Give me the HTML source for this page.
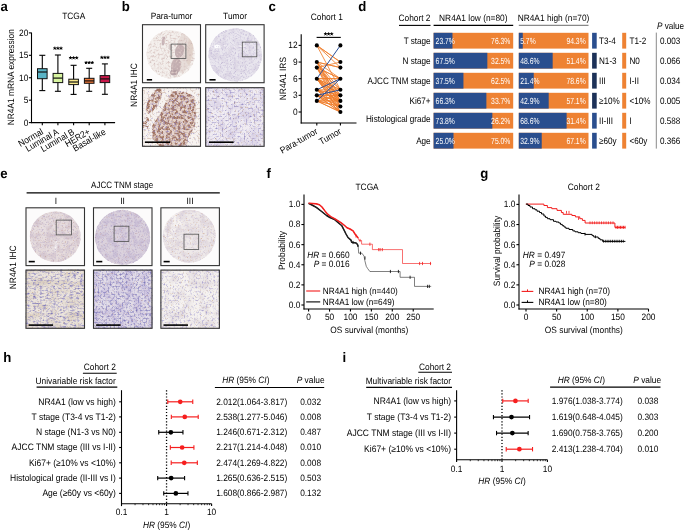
<!DOCTYPE html>
<html><head><meta charset="utf-8"><style>
html,body{margin:0;padding:0;background:#fff;}
svg{display:block;will-change:transform;}
text{font-family:"Liberation Sans",sans-serif;text-rendering:geometricPrecision;}
</style></head><body>
<svg width="685" height="531" viewBox="0 0 685 531">
<defs><filter id="soft" color-interpolation-filters="sRGB"><feGaussianBlur stdDeviation="1.0"/></filter><clipPath id="cp1"><circle cx="170.80" cy="54.20" r="24.20"/></clipPath><filter id="nf1" x="0" y="0" width="1" height="1" color-interpolation-filters="sRGB"><feTurbulence type="fractalNoise" baseFrequency="0.5" numOctaves="2" seed="1"/><feColorMatrix type="matrix" values="0 0 0 0 0.863 0 0 0 0 0.792 0 0 0 0 0.776 3.000 0 0 0 -1.361"/></filter><filter id="nf2" x="0" y="0" width="1" height="1" color-interpolation-filters="sRGB"><feTurbulence type="fractalNoise" baseFrequency="0.6" numOctaves="2" seed="2"/><feColorMatrix type="matrix" values="0 0 0 0 0.769 0 0 0 0 0.675 0 0 0 0 0.675 0 3.000 0 0 -1.856"/></filter><clipPath id="cp2"><circle cx="235.30" cy="55.00" r="26.80"/></clipPath><filter id="nf3" x="0" y="0" width="1" height="1" color-interpolation-filters="sRGB"><feTurbulence type="fractalNoise" baseFrequency="0.15" numOctaves="3" seed="3"/><feColorMatrix type="matrix" values="0 0 0 0 0.863 0 0 0 0 0.839 0 0 0 0 0.894 3.000 0 0 0 -1.246"/></filter><filter id="nf4" x="0" y="0" width="1" height="1" color-interpolation-filters="sRGB"><feTurbulence type="fractalNoise" baseFrequency="0.55" numOctaves="2" seed="4"/><feColorMatrix type="matrix" values="0 0 0 0 0.800 0 0 0 0 0.769 0 0 0 0 0.863 3.000 0 0 0 -1.463"/></filter><filter id="nf5" x="0" y="0" width="1" height="1" color-interpolation-filters="sRGB"><feTurbulence type="fractalNoise" baseFrequency="0.6" numOctaves="2" seed="5"/><feColorMatrix type="matrix" values="0 0 0 0 0.675 0 0 0 0 0.627 0 0 0 0 0.769 0 3.000 0 0 -1.930"/></filter><clipPath id="cp3"><rect x="142" y="87.2" width="59" height="59.6"/></clipPath><filter id="nf6" x="0" y="0" width="1" height="1" color-interpolation-filters="sRGB"><feTurbulence type="fractalNoise" baseFrequency="0.36" numOctaves="2" seed="6"/><feColorMatrix type="matrix" values="0 0 0 0 0.635 0 0 0 0 0.463 0 0 0 0 0.392 6.000 0 0 0 -2.651"/></filter><clipPath id="cp4"><path d="M172,91 L186,92 L195,97 L196,112 L195,126 L188,138 L187,147 L160,147 L152,138 L152,126 L160,114 L166,102 Z"/><ellipse cx="154.0" cy="101.0" rx="5.5" ry="14.0" transform="rotate(28 154.0 101.0)"/><ellipse cx="146.0" cy="124.0" rx="3.0" ry="7.0" transform="rotate(10 146.0 124.0)"/></clipPath><filter id="nf7" x="0" y="0" width="1" height="1" color-interpolation-filters="sRGB"><feTurbulence type="fractalNoise" baseFrequency="0.55" numOctaves="2" seed="8"/><feColorMatrix type="matrix" values="0 0 0 0 0.580 0 0 0 0 0.518 0 0 0 0 0.753 0 3.000 0 0 -1.593"/></filter><clipPath id="cp5"><path d="M172,91 L186,92 L195,97 L196,112 L195,126 L188,138 L187,147 L160,147 L152,138 L152,126 L160,114 L166,102 Z"/><ellipse cx="154.0" cy="101.0" rx="5.5" ry="14.0" transform="rotate(28 154.0 101.0)"/><ellipse cx="146.0" cy="124.0" rx="3.0" ry="7.0" transform="rotate(10 146.0 124.0)"/></clipPath><filter id="nf8" x="0" y="0" width="1" height="1" color-interpolation-filters="sRGB"><feTurbulence type="fractalNoise" baseFrequency="0.5" numOctaves="2" seed="9"/><feColorMatrix type="matrix" values="0 0 0 0 0.804 0 0 0 0 0.706 0 0 0 0 0.659 0 0 3.000 0 -1.545"/></filter><filter id="nf9" x="0" y="0" width="1" height="1" color-interpolation-filters="sRGB"><feTurbulence type="fractalNoise" baseFrequency="0.6" numOctaves="2" seed="19"/><feColorMatrix type="matrix" values="0 0 0 0 0.604 0 0 0 0 0.565 0 0 0 0 0.784 0 3.000 0 0 -1.856"/></filter><clipPath id="cp6"><rect x="205.2" y="87.2" width="59.4" height="59.6"/></clipPath><filter id="nf10" x="0" y="0" width="1" height="1" color-interpolation-filters="sRGB"><feTurbulence type="fractalNoise" baseFrequency="0.1" numOctaves="3" seed="10"/><feColorMatrix type="matrix" values="0 0 0 0 0.867 0 0 0 0 0.839 0 0 0 0 0.910 3.000 0 0 0 -1.181"/></filter><filter id="nf11" x="0" y="0" width="1" height="1" color-interpolation-filters="sRGB"><feTurbulence type="fractalNoise" baseFrequency="0.5" numOctaves="2" seed="11"/><feColorMatrix type="matrix" values="0 0 0 0 0.494 0 0 0 0 0.455 0 0 0 0 0.729 3.000 0 0 0 -1.679"/></filter><filter id="nf12" x="0" y="0" width="1" height="1" color-interpolation-filters="sRGB"><feTurbulence type="fractalNoise" baseFrequency="0.45" numOctaves="2" seed="12"/><feColorMatrix type="matrix" values="0 0 0 0 0.706 0 0 0 0 0.580 0 0 0 0 0.518 0 3.000 0 0 -1.799"/></filter><filter id="nf13" x="0" y="0" width="1" height="1" color-interpolation-filters="sRGB"><feTurbulence type="fractalNoise" baseFrequency="0.5" numOctaves="2" seed="13"/><feColorMatrix type="matrix" values="0 0 0 0 0.792 0 0 0 0 0.761 0 0 0 0 0.878 0 0 3.000 0 -1.545"/></filter><clipPath id="cp7"><circle cx="55.30" cy="236.70" r="25.50"/></clipPath><filter id="nf14" x="0" y="0" width="1" height="1" color-interpolation-filters="sRGB"><feTurbulence type="fractalNoise" baseFrequency="0.15" numOctaves="3" seed="20"/><feColorMatrix type="matrix" values="0 0 0 0 0.839 0 0 0 0 0.784 0 0 0 0 0.816 3.000 0 0 0 -1.246"/></filter><filter id="nf15" x="0" y="0" width="1" height="1" color-interpolation-filters="sRGB"><feTurbulence type="fractalNoise" baseFrequency="0.55" numOctaves="2" seed="21"/><feColorMatrix type="matrix" values="0 0 0 0 0.769 0 0 0 0 0.714 0 0 0 0 0.800 0 3.000 0 0 -1.545"/></filter><filter id="nf16" x="0" y="0" width="1" height="1" color-interpolation-filters="sRGB"><feTurbulence type="fractalNoise" baseFrequency="0.6" numOctaves="2" seed="22"/><feColorMatrix type="matrix" values="0 0 0 0 0.784 0 0 0 0 0.659 0 0 0 0 0.627 0 0 3.000 0 -1.826"/></filter><clipPath id="cp8"><circle cx="122.50" cy="237.40" r="27.60"/></clipPath><filter id="nf17" x="0" y="0" width="1" height="1" color-interpolation-filters="sRGB"><feTurbulence type="fractalNoise" baseFrequency="0.15" numOctaves="3" seed="23"/><feColorMatrix type="matrix" values="0 0 0 0 0.796 0 0 0 0 0.753 0 0 0 0 0.839 3.000 0 0 0 -1.246"/></filter><filter id="nf18" x="0" y="0" width="1" height="1" color-interpolation-filters="sRGB"><feTurbulence type="fractalNoise" baseFrequency="0.55" numOctaves="2" seed="24"/><feColorMatrix type="matrix" values="0 0 0 0 0.737 0 0 0 0 0.690 0 0 0 0 0.808 0 3.000 0 0 -1.482"/></filter><filter id="nf19" x="0" y="0" width="1" height="1" color-interpolation-filters="sRGB"><feTurbulence type="fractalNoise" baseFrequency="0.6" numOctaves="2" seed="25"/><feColorMatrix type="matrix" values="0 0 0 0 0.769 0 0 0 0 0.643 0 0 0 0 0.659 0 0 3.000 0 -1.856"/></filter><clipPath id="cp9"><circle cx="189.30" cy="236.20" r="26.50"/></clipPath><filter id="nf20" x="0" y="0" width="1" height="1" color-interpolation-filters="sRGB"><feTurbulence type="fractalNoise" baseFrequency="0.15" numOctaves="3" seed="26"/><feColorMatrix type="matrix" values="0 0 0 0 0.875 0 0 0 0 0.839 0 0 0 0 0.863 3.000 0 0 0 -1.246"/></filter><filter id="nf21" x="0" y="0" width="1" height="1" color-interpolation-filters="sRGB"><feTurbulence type="fractalNoise" baseFrequency="0.55" numOctaves="2" seed="27"/><feColorMatrix type="matrix" values="0 0 0 0 0.812 0 0 0 0 0.776 0 0 0 0 0.855 0 3.000 0 0 -1.593"/></filter><filter id="nf22" x="0" y="0" width="1" height="1" color-interpolation-filters="sRGB"><feTurbulence type="fractalNoise" baseFrequency="0.6" numOctaves="2" seed="28"/><feColorMatrix type="matrix" values="0 0 0 0 0.824 0 0 0 0 0.690 0 0 0 0 0.604 0 0 3.000 0 -1.826"/></filter><clipPath id="cp10"><rect x="25.5" y="269.6" width="59.5" height="59.2"/></clipPath><filter id="nf23" x="0" y="0" width="1" height="1" color-interpolation-filters="sRGB"><feTurbulence type="fractalNoise" baseFrequency="0.06 0.15" numOctaves="2" seed="40"/><feColorMatrix type="matrix" values="0 0 0 0 0.867 0 0 0 0 0.824 0 0 0 0 0.769 3.000 0 0 0 -1.246"/></filter><filter id="nf24" x="0" y="0" width="1" height="1" color-interpolation-filters="sRGB"><feTurbulence type="fractalNoise" baseFrequency="0.3 0.6" numOctaves="2" seed="41"/><feColorMatrix type="matrix" values="0 0 0 0 0.494 0 0 0 0 0.471 0 0 0 0 0.729 0 3.000 0 0 -1.545"/></filter><filter id="nf25" x="0" y="0" width="1" height="1" color-interpolation-filters="sRGB"><feTurbulence type="fractalNoise" baseFrequency="0.35 0.5" numOctaves="2" seed="42"/><feColorMatrix type="matrix" values="0 0 0 0 0.659 0 0 0 0 0.627 0 0 0 0 0.800 0 0 3.000 0 -1.593"/></filter><filter id="nf26" x="0" y="0" width="1" height="1" color-interpolation-filters="sRGB"><feTurbulence type="fractalNoise" baseFrequency="0.6" numOctaves="2" seed="43"/><feColorMatrix type="matrix" values="0 0 0 0 0.784 0 0 0 0 0.667 0 0 0 0 0.573 3.000 0 0 0 -1.856"/></filter><clipPath id="cp11"><rect x="93.0" y="269.6" width="59.5" height="59.2"/></clipPath><filter id="nf27" x="0" y="0" width="1" height="1" color-interpolation-filters="sRGB"><feTurbulence type="fractalNoise" baseFrequency="0.12" numOctaves="2" seed="44"/><feColorMatrix type="matrix" values="0 0 0 0 0.812 0 0 0 0 0.776 0 0 0 0 0.878 3.000 0 0 0 -1.181"/></filter><filter id="nf28" x="0" y="0" width="1" height="1" color-interpolation-filters="sRGB"><feTurbulence type="fractalNoise" baseFrequency="0.5" numOctaves="2" seed="45"/><feColorMatrix type="matrix" values="0 0 0 0 0.494 0 0 0 0 0.471 0 0 0 0 0.729 0 3.000 0 0 -1.502"/></filter><filter id="nf29" x="0" y="0" width="1" height="1" color-interpolation-filters="sRGB"><feTurbulence type="fractalNoise" baseFrequency="0.45" numOctaves="2" seed="46"/><feColorMatrix type="matrix" values="0 0 0 0 0.604 0 0 0 0 0.573 0 0 0 0 0.784 0 0 3.000 0 -1.545"/></filter><filter id="nf30" x="0" y="0" width="1" height="1" color-interpolation-filters="sRGB"><feTurbulence type="fractalNoise" baseFrequency="0.6" numOctaves="2" seed="47"/><feColorMatrix type="matrix" values="0 0 0 0 0.753 0 0 0 0 0.627 0 0 0 0 0.627 3.000 0 0 0 -1.856"/></filter><clipPath id="cp12"><rect x="160.4" y="269.6" width="59.5" height="59.2"/></clipPath><filter id="nf31" x="0" y="0" width="1" height="1" color-interpolation-filters="sRGB"><feTurbulence type="fractalNoise" baseFrequency="0.1" numOctaves="2" seed="48"/><feColorMatrix type="matrix" values="0 0 0 0 0.894 0 0 0 0 0.867 0 0 0 0 0.878 3.000 0 0 0 -1.246"/></filter><filter id="nf32" x="0" y="0" width="1" height="1" color-interpolation-filters="sRGB"><feTurbulence type="fractalNoise" baseFrequency="0.5" numOctaves="2" seed="49"/><feColorMatrix type="matrix" values="0 0 0 0 0.580 0 0 0 0 0.549 0 0 0 0 0.776 0 3.000 0 0 -1.753"/></filter><filter id="nf33" x="0" y="0" width="1" height="1" color-interpolation-filters="sRGB"><feTurbulence type="fractalNoise" baseFrequency="0.45" numOctaves="2" seed="50"/><feColorMatrix type="matrix" values="0 0 0 0 0.690 0 0 0 0 0.659 0 0 0 0 0.831 0 0 3.000 0 -1.714"/></filter><filter id="nf34" x="0" y="0" width="1" height="1" color-interpolation-filters="sRGB"><feTurbulence type="fractalNoise" baseFrequency="0.6" numOctaves="2" seed="51"/><feColorMatrix type="matrix" values="0 0 0 0 0.824 0 0 0 0 0.737 0 0 0 0 0.675 3.000 0 0 0 -1.799"/></filter></defs>
<rect width="685" height="531" fill="#fff"/>
<text transform="translate(0.50 10.80) scale(1 1.04)" font-size="13.2" font-weight="bold">a</text>
<text transform="translate(73.80 19.00) scale(1 1.1)" font-size="8.35" text-anchor="middle">TCGA</text>
<line x1="31.50" y1="32.60" x2="31.50" y2="123.10" stroke="#000" stroke-width="1.1"/>
<line x1="31.00" y1="122.60" x2="115.10" y2="122.60" stroke="#000" stroke-width="1.1"/>
<line x1="28.90" y1="122.60" x2="31.50" y2="122.60" stroke="#000" stroke-width="1.1"/>
<text transform="translate(28.40 125.50) scale(1 1.1)" font-size="8.35" text-anchor="end">0</text>
<line x1="28.90" y1="100.17" x2="31.50" y2="100.17" stroke="#000" stroke-width="1.1"/>
<text transform="translate(28.40 103.08) scale(1 1.1)" font-size="8.35" text-anchor="end">5</text>
<line x1="28.90" y1="77.75" x2="31.50" y2="77.75" stroke="#000" stroke-width="1.1"/>
<text transform="translate(28.40 80.65) scale(1 1.1)" font-size="8.35" text-anchor="end">10</text>
<line x1="28.90" y1="55.32" x2="31.50" y2="55.32" stroke="#000" stroke-width="1.1"/>
<text transform="translate(28.40 58.22) scale(1 1.1)" font-size="8.35" text-anchor="end">15</text>
<line x1="28.90" y1="32.90" x2="31.50" y2="32.90" stroke="#000" stroke-width="1.1"/>
<text transform="translate(28.40 35.80) scale(1 1.1)" font-size="8.35" text-anchor="end">20</text>
<text transform="translate(14.00 77.20) rotate(-90) scale(1 1.1)" font-size="8.35" text-anchor="middle">NR4A1 mRNA expression</text>
<line x1="42.30" y1="90.60" x2="42.30" y2="55.30" stroke="#000" stroke-width="1.1"/>
<line x1="39.30" y1="90.60" x2="45.30" y2="90.60" stroke="#000" stroke-width="1.1"/>
<line x1="39.30" y1="55.30" x2="45.30" y2="55.30" stroke="#000" stroke-width="1.1"/>
<rect x="37.50" y="68.70" width="9.60" height="10.00" fill="#5ab4c6" stroke="#111" stroke-width="1.0"/>
<line x1="37.50" y1="72.00" x2="47.10" y2="72.00" stroke="#111" stroke-width="1.2"/>
<line x1="42.30" y1="122.60" x2="42.30" y2="125.20" stroke="#000" stroke-width="1.1"/>
<text transform="translate(43.80 133.60) rotate(-30) scale(1 1.1)" font-size="8.35" text-anchor="end">Normal</text>
<line x1="57.90" y1="91.30" x2="57.90" y2="55.00" stroke="#000" stroke-width="1.1"/>
<line x1="54.90" y1="91.30" x2="60.90" y2="91.30" stroke="#000" stroke-width="1.1"/>
<line x1="54.90" y1="55.00" x2="60.90" y2="55.00" stroke="#000" stroke-width="1.1"/>
<rect x="53.10" y="73.40" width="9.60" height="9.20" fill="#d8f5a0" stroke="#111" stroke-width="1.0"/>
<line x1="53.10" y1="78.10" x2="62.70" y2="78.10" stroke="#111" stroke-width="1.2"/>
<line x1="57.90" y1="122.60" x2="57.90" y2="125.20" stroke="#000" stroke-width="1.1"/>
<text transform="translate(59.40 133.60) rotate(-30) scale(1 1.1)" font-size="8.35" text-anchor="end">Luminal A</text>
<line x1="73.60" y1="94.40" x2="73.60" y2="65.30" stroke="#000" stroke-width="1.1"/>
<line x1="70.60" y1="94.40" x2="76.60" y2="94.40" stroke="#000" stroke-width="1.1"/>
<line x1="70.60" y1="65.30" x2="76.60" y2="65.30" stroke="#000" stroke-width="1.1"/>
<rect x="68.80" y="79.20" width="9.60" height="5.40" fill="#f8e88c" stroke="#111" stroke-width="1.0"/>
<line x1="68.80" y1="82.00" x2="78.40" y2="82.00" stroke="#111" stroke-width="1.2"/>
<line x1="73.60" y1="122.60" x2="73.60" y2="125.20" stroke="#000" stroke-width="1.1"/>
<text transform="translate(75.10 133.60) rotate(-30) scale(1 1.1)" font-size="8.35" text-anchor="end">Luminal B</text>
<line x1="89.20" y1="91.30" x2="89.20" y2="68.30" stroke="#000" stroke-width="1.1"/>
<line x1="86.20" y1="91.30" x2="92.20" y2="91.30" stroke="#000" stroke-width="1.1"/>
<line x1="86.20" y1="68.30" x2="92.20" y2="68.30" stroke="#000" stroke-width="1.1"/>
<rect x="84.40" y="78.30" width="9.60" height="5.00" fill="#f07838" stroke="#111" stroke-width="1.0"/>
<line x1="84.40" y1="80.90" x2="94.00" y2="80.90" stroke="#111" stroke-width="1.2"/>
<line x1="89.20" y1="122.60" x2="89.20" y2="125.20" stroke="#000" stroke-width="1.1"/>
<text transform="translate(90.70 133.60) rotate(-30) scale(1 1.1)" font-size="8.35" text-anchor="end">HER2+</text>
<line x1="104.90" y1="94.30" x2="104.90" y2="63.90" stroke="#000" stroke-width="1.1"/>
<line x1="101.90" y1="94.30" x2="107.90" y2="94.30" stroke="#000" stroke-width="1.1"/>
<line x1="101.90" y1="63.90" x2="107.90" y2="63.90" stroke="#000" stroke-width="1.1"/>
<rect x="100.10" y="75.60" width="9.60" height="7.00" fill="#c8184a" stroke="#111" stroke-width="1.0"/>
<line x1="100.10" y1="78.90" x2="109.70" y2="78.90" stroke="#111" stroke-width="1.2"/>
<line x1="104.90" y1="122.60" x2="104.90" y2="125.20" stroke="#000" stroke-width="1.1"/>
<text transform="translate(106.40 133.60) rotate(-30) scale(1 1.1)" font-size="8.35" text-anchor="end">Basal-like</text>
<path d="M54.80,48.30L54.80,47.05M54.80,48.30L53.61,47.91M54.80,48.30L54.07,49.31M54.80,48.30L55.53,49.31M54.80,48.30L55.99,47.91" stroke="#000" stroke-width="0.95" stroke-linecap="round" fill="none"/>
<path d="M57.90,48.30L57.90,47.05M57.90,48.30L56.71,47.91M57.90,48.30L57.17,49.31M57.90,48.30L58.63,49.31M57.90,48.30L59.09,47.91" stroke="#000" stroke-width="0.95" stroke-linecap="round" fill="none"/>
<path d="M61.00,48.30L61.00,47.05M61.00,48.30L59.81,47.91M61.00,48.30L60.27,49.31M61.00,48.30L61.73,49.31M61.00,48.30L62.19,47.91" stroke="#000" stroke-width="0.95" stroke-linecap="round" fill="none"/>
<path d="M70.50,57.90L70.50,56.65M70.50,57.90L69.31,57.51M70.50,57.90L69.77,58.91M70.50,57.90L71.23,58.91M70.50,57.90L71.69,57.51" stroke="#000" stroke-width="0.95" stroke-linecap="round" fill="none"/>
<path d="M73.60,57.90L73.60,56.65M73.60,57.90L72.41,57.51M73.60,57.90L72.87,58.91M73.60,57.90L74.33,58.91M73.60,57.90L74.79,57.51" stroke="#000" stroke-width="0.95" stroke-linecap="round" fill="none"/>
<path d="M76.70,57.90L76.70,56.65M76.70,57.90L75.51,57.51M76.70,57.90L75.97,58.91M76.70,57.90L77.43,58.91M76.70,57.90L77.89,57.51" stroke="#000" stroke-width="0.95" stroke-linecap="round" fill="none"/>
<path d="M86.10,62.70L86.10,61.45M86.10,62.70L84.91,62.31M86.10,62.70L85.37,63.71M86.10,62.70L86.83,63.71M86.10,62.70L87.29,62.31" stroke="#000" stroke-width="0.95" stroke-linecap="round" fill="none"/>
<path d="M89.20,62.70L89.20,61.45M89.20,62.70L88.01,62.31M89.20,62.70L88.47,63.71M89.20,62.70L89.93,63.71M89.20,62.70L90.39,62.31" stroke="#000" stroke-width="0.95" stroke-linecap="round" fill="none"/>
<path d="M92.30,62.70L92.30,61.45M92.30,62.70L91.11,62.31M92.30,62.70L91.57,63.71M92.30,62.70L93.03,63.71M92.30,62.70L93.49,62.31" stroke="#000" stroke-width="0.95" stroke-linecap="round" fill="none"/>
<path d="M101.80,57.50L101.80,56.25M101.80,57.50L100.61,57.11M101.80,57.50L101.07,58.51M101.80,57.50L102.53,58.51M101.80,57.50L102.99,57.11" stroke="#000" stroke-width="0.95" stroke-linecap="round" fill="none"/>
<path d="M104.90,57.50L104.90,56.25M104.90,57.50L103.71,57.11M104.90,57.50L104.17,58.51M104.90,57.50L105.63,58.51M104.90,57.50L106.09,57.11" stroke="#000" stroke-width="0.95" stroke-linecap="round" fill="none"/>
<path d="M108.00,57.50L108.00,56.25M108.00,57.50L106.81,57.11M108.00,57.50L107.27,58.51M108.00,57.50L108.73,58.51M108.00,57.50L109.19,57.11" stroke="#000" stroke-width="0.95" stroke-linecap="round" fill="none"/>
<text transform="translate(121.80 10.80) scale(1 1.04)" font-size="13.2" font-weight="bold">b</text>
<text transform="translate(171.50 18.80) scale(1 1.1)" font-size="8.35" text-anchor="middle">Para-tumor</text>
<text transform="translate(235.00 18.80) scale(1 1.1)" font-size="8.35" text-anchor="middle">Tumor</text>
<text transform="translate(137.20 85.00) rotate(-90) scale(1 1.1)" font-size="8.4" text-anchor="middle">NR4A1 IHC</text>
<rect x="142.00" y="24.20" width="59.00" height="59.00" fill="#fdfcfc"/>
<rect x="205.20" y="24.20" width="59.40" height="59.00" fill="#fcfcfc"/>
<g clip-path="url(#cp1)"><g>
<circle cx="170.80" cy="54.20" r="24.20" fill="#f4f0ed"/>
<ellipse cx="184.0" cy="52.0" rx="8.0" ry="21.0" transform="rotate(8 184.0 52.0)" fill="#e6dad6" opacity="0.9"/>
<ellipse cx="190.0" cy="50.0" rx="3.0" ry="15.0" transform="rotate(5 190.0 50.0)" fill="#e0cfc6" opacity="0.8"/>
<ellipse cx="179.5" cy="51.0" rx="4.5" ry="7.0" transform="rotate(15 179.5 51.0)" fill="#bea8ac" opacity="0.9"/>
<ellipse cx="176.0" cy="66.0" rx="5.0" ry="8.0" transform="rotate(10 176.0 66.0)" fill="#bca6aa" opacity="0.9"/>
<ellipse cx="174.0" cy="72.5" rx="4.0" ry="3.0" transform="rotate(0 174.0 72.5)" fill="#b09aa0" opacity="0.9"/>
<ellipse cx="163.5" cy="41.0" rx="1.6" ry="4.5" transform="rotate(10 163.5 41.0)" fill="#c0aaae" opacity="0.9"/>
<ellipse cx="170.0" cy="47.0" rx="1.5" ry="3.0" transform="rotate(0 170.0 47.0)" fill="#ccbaba" opacity="0.7"/>
<rect x="145" y="29" width="52" height="52" filter="url(#nf1)"/>
<rect x="145" y="29" width="52" height="52" filter="url(#nf2)"/>
</g></g>
<g clip-path="url(#cp2)"><g>
<circle cx="235.30" cy="55.00" r="26.80" fill="#e9e6ee"/>
<ellipse cx="217.0" cy="46.5" rx="9.0" ry="1.6" transform="rotate(-5 217.0 46.5)" fill="#ffffff" opacity="0.95"/>
<ellipse cx="236.0" cy="47.0" rx="12.0" ry="1.0" transform="rotate(-3 236.0 47.0)" fill="#f6f4f8" opacity="0.8"/>
<rect x="207" y="27" width="57" height="57" filter="url(#nf3)"/>
<rect x="207" y="27" width="57" height="57" filter="url(#nf4)"/>
<rect x="207" y="27" width="57" height="57" filter="url(#nf5)"/>
</g></g>
<rect x="142.50" y="24.70" width="58.00" height="58.00" fill="none" stroke="#333" stroke-width="1.1"/>
<rect x="205.70" y="24.70" width="58.40" height="58.00" fill="none" stroke="#333" stroke-width="1.1"/>
<rect x="171.1" y="44.1" width="14.8" height="14.4" fill="none" stroke="#505050" stroke-width="0.8"/>
<rect x="242.3" y="42.1" width="14.5" height="14.7" fill="none" stroke="#505050" stroke-width="0.8"/>
<line x1="146.80" y1="79.80" x2="152.10" y2="79.80" stroke="#000" stroke-width="1.6"/>
<line x1="209.40" y1="79.80" x2="215.60" y2="79.80" stroke="#000" stroke-width="1.6"/>
<g clip-path="url(#cp3)"><g>
<rect x="142" y="87.2" width="59" height="59.6" fill="#f7f3f0"/>
<path d="M172,91 L186,92 L195,97 L196,112 L195,126 L188,138 L187,147 L160,147 L152,138 L152,126 L160,114 L166,102 Z" fill="#e4d2c8" opacity="0.9"/>
<ellipse cx="154.0" cy="101.0" rx="5.5" ry="14.0" transform="rotate(28 154.0 101.0)" fill="#e8d8ce" opacity="0.9"/>
<g clip-path="url(#cp4)"><rect x="142" y="87.2" width="59" height="59.6" filter="url(#nf6)"/></g>
<g clip-path="url(#cp5)"><rect x="142" y="87.2" width="59" height="59.6" filter="url(#nf7)"/></g>
<rect x="142" y="87.2" width="59" height="59.6" filter="url(#nf8)"/>
<rect x="142" y="87.2" width="59" height="59.6" filter="url(#nf9)"/>
</g></g>
<g clip-path="url(#cp6)"><g>
<rect x="205.2" y="87.2" width="59.4" height="59.6" fill="#f0ecf2"/>
<rect x="205.2" y="87.2" width="59.4" height="59.6" filter="url(#nf10)"/>
<rect x="205.2" y="87.2" width="59.4" height="59.6" filter="url(#nf11)"/>
<rect x="205.2" y="87.2" width="59.4" height="59.6" filter="url(#nf12)"/>
<rect x="205.2" y="87.2" width="59.4" height="59.6" filter="url(#nf13)"/>
</g></g>
<rect x="142.50" y="87.70" width="58.00" height="58.60" fill="none" stroke="#333" stroke-width="1.1"/>
<rect x="205.70" y="87.70" width="58.40" height="58.60" fill="none" stroke="#333" stroke-width="1.1"/>
<line x1="144.90" y1="142.20" x2="170.10" y2="142.20" stroke="#000" stroke-width="1.6"/>
<line x1="209.00" y1="142.20" x2="233.70" y2="142.20" stroke="#000" stroke-width="1.6"/>
<text transform="translate(268.60 10.70) scale(1 1.04)" font-size="13.2" font-weight="bold">c</text>
<text transform="translate(326.80 19.60) scale(1 1.1)" font-size="8.35" text-anchor="middle">Cohort 1</text>
<line x1="301.20" y1="34.20" x2="301.20" y2="123.50" stroke="#000" stroke-width="1.1"/>
<line x1="300.70" y1="123.00" x2="356.50" y2="123.00" stroke="#000" stroke-width="1.1"/>
<line x1="298.60" y1="112.00" x2="301.20" y2="112.00" stroke="#000" stroke-width="1.1"/>
<text transform="translate(297.60 114.90) scale(1 1.1)" font-size="8.35" text-anchor="end">0</text>
<line x1="298.60" y1="95.35" x2="301.20" y2="95.35" stroke="#000" stroke-width="1.1"/>
<text transform="translate(297.60 98.25) scale(1 1.1)" font-size="8.35" text-anchor="end">3</text>
<line x1="298.60" y1="78.70" x2="301.20" y2="78.70" stroke="#000" stroke-width="1.1"/>
<text transform="translate(297.60 81.60) scale(1 1.1)" font-size="8.35" text-anchor="end">6</text>
<line x1="298.60" y1="62.05" x2="301.20" y2="62.05" stroke="#000" stroke-width="1.1"/>
<text transform="translate(297.60 64.95) scale(1 1.1)" font-size="8.35" text-anchor="end">9</text>
<line x1="298.60" y1="45.40" x2="301.20" y2="45.40" stroke="#000" stroke-width="1.1"/>
<text transform="translate(297.60 48.30) scale(1 1.1)" font-size="8.35" text-anchor="end">12</text>
<text transform="translate(285.50 78.60) rotate(-90) scale(1 1.1)" font-size="8.35" text-anchor="middle">NR4A1 IRS</text>
<line x1="316.80" y1="123.00" x2="316.80" y2="125.60" stroke="#000" stroke-width="1.1"/>
<line x1="340.40" y1="123.00" x2="340.40" y2="125.60" stroke="#000" stroke-width="1.1"/>
<text transform="translate(318.30 133.00) rotate(-30) scale(1 1.1)" font-size="8.35" text-anchor="end">Para-tumor</text>
<text transform="translate(341.90 133.00) rotate(-30) scale(1 1.1)" font-size="8.35" text-anchor="end">Tumor</text>
<line x1="316.60" y1="37.40" x2="340.80" y2="37.40" stroke="#000" stroke-width="1.1"/>
<path d="M325.50,34.00L325.50,32.75M325.50,34.00L324.31,33.61M325.50,34.00L324.77,35.01M325.50,34.00L326.23,35.01M325.50,34.00L326.69,33.61" stroke="#000" stroke-width="0.95" stroke-linecap="round" fill="none"/>
<path d="M328.60,34.00L328.60,32.75M328.60,34.00L327.41,33.61M328.60,34.00L327.87,35.01M328.60,34.00L329.33,35.01M328.60,34.00L329.79,33.61" stroke="#000" stroke-width="0.95" stroke-linecap="round" fill="none"/>
<path d="M331.70,34.00L331.70,32.75M331.70,34.00L330.51,33.61M331.70,34.00L330.97,35.01M331.70,34.00L332.43,35.01M331.70,34.00L332.89,33.61" stroke="#000" stroke-width="0.95" stroke-linecap="round" fill="none"/>
<line x1="316.80" y1="45.40" x2="340.40" y2="62.05" stroke="#f07f2e" stroke-width="0.85"/>
<line x1="316.80" y1="45.40" x2="340.40" y2="62.05" stroke="#f07f2e" stroke-width="0.85"/>
<line x1="316.80" y1="45.40" x2="340.40" y2="67.60" stroke="#f07f2e" stroke-width="0.85"/>
<line x1="316.80" y1="45.40" x2="340.40" y2="89.80" stroke="#f07f2e" stroke-width="0.85"/>
<line x1="316.80" y1="62.05" x2="340.40" y2="67.60" stroke="#f07f2e" stroke-width="0.85"/>
<line x1="316.80" y1="62.05" x2="340.40" y2="67.60" stroke="#f07f2e" stroke-width="0.85"/>
<line x1="316.80" y1="62.05" x2="340.40" y2="78.70" stroke="#f07f2e" stroke-width="0.85"/>
<line x1="316.80" y1="62.05" x2="340.40" y2="89.80" stroke="#f07f2e" stroke-width="0.85"/>
<line x1="316.80" y1="62.05" x2="340.40" y2="95.35" stroke="#f07f2e" stroke-width="0.85"/>
<line x1="316.80" y1="62.05" x2="340.40" y2="100.90" stroke="#f07f2e" stroke-width="0.85"/>
<line x1="316.80" y1="62.05" x2="340.40" y2="100.90" stroke="#f07f2e" stroke-width="0.85"/>
<line x1="316.80" y1="62.05" x2="340.40" y2="106.45" stroke="#f07f2e" stroke-width="0.85"/>
<line x1="316.80" y1="67.60" x2="340.40" y2="62.05" stroke="#f07f2e" stroke-width="0.85"/>
<line x1="316.80" y1="67.60" x2="340.40" y2="78.70" stroke="#f07f2e" stroke-width="0.85"/>
<line x1="316.80" y1="67.60" x2="340.40" y2="78.70" stroke="#f07f2e" stroke-width="0.85"/>
<line x1="316.80" y1="67.60" x2="340.40" y2="89.80" stroke="#f07f2e" stroke-width="0.85"/>
<line x1="316.80" y1="67.60" x2="340.40" y2="95.35" stroke="#f07f2e" stroke-width="0.85"/>
<line x1="316.80" y1="67.60" x2="340.40" y2="100.90" stroke="#f07f2e" stroke-width="0.85"/>
<line x1="316.80" y1="67.60" x2="340.40" y2="106.45" stroke="#f07f2e" stroke-width="0.85"/>
<line x1="316.80" y1="67.60" x2="340.40" y2="112.00" stroke="#f07f2e" stroke-width="0.85"/>
<line x1="316.80" y1="78.70" x2="340.40" y2="78.70" stroke="#f07f2e" stroke-width="0.85"/>
<line x1="316.80" y1="78.70" x2="340.40" y2="78.70" stroke="#f07f2e" stroke-width="0.85"/>
<line x1="316.80" y1="78.70" x2="340.40" y2="89.80" stroke="#f07f2e" stroke-width="0.85"/>
<line x1="316.80" y1="78.70" x2="340.40" y2="89.80" stroke="#f07f2e" stroke-width="0.85"/>
<line x1="316.80" y1="78.70" x2="340.40" y2="95.35" stroke="#f07f2e" stroke-width="0.85"/>
<line x1="316.80" y1="78.70" x2="340.40" y2="95.35" stroke="#f07f2e" stroke-width="0.85"/>
<line x1="316.80" y1="78.70" x2="340.40" y2="100.90" stroke="#f07f2e" stroke-width="0.85"/>
<line x1="316.80" y1="78.70" x2="340.40" y2="100.90" stroke="#f07f2e" stroke-width="0.85"/>
<line x1="316.80" y1="78.70" x2="340.40" y2="106.45" stroke="#f07f2e" stroke-width="0.85"/>
<line x1="316.80" y1="78.70" x2="340.40" y2="106.45" stroke="#f07f2e" stroke-width="0.85"/>
<line x1="316.80" y1="78.70" x2="340.40" y2="112.00" stroke="#f07f2e" stroke-width="0.85"/>
<line x1="316.80" y1="78.70" x2="340.40" y2="112.00" stroke="#f07f2e" stroke-width="0.85"/>
<line x1="316.80" y1="78.70" x2="340.40" y2="95.35" stroke="#f07f2e" stroke-width="0.85"/>
<line x1="316.80" y1="78.70" x2="340.40" y2="100.90" stroke="#f07f2e" stroke-width="0.85"/>
<line x1="316.80" y1="89.80" x2="340.40" y2="89.80" stroke="#f07f2e" stroke-width="0.85"/>
<line x1="316.80" y1="89.80" x2="340.40" y2="95.35" stroke="#f07f2e" stroke-width="0.85"/>
<line x1="316.80" y1="89.80" x2="340.40" y2="95.35" stroke="#f07f2e" stroke-width="0.85"/>
<line x1="316.80" y1="89.80" x2="340.40" y2="100.90" stroke="#f07f2e" stroke-width="0.85"/>
<line x1="316.80" y1="89.80" x2="340.40" y2="100.90" stroke="#f07f2e" stroke-width="0.85"/>
<line x1="316.80" y1="89.80" x2="340.40" y2="106.45" stroke="#f07f2e" stroke-width="0.85"/>
<line x1="316.80" y1="89.80" x2="340.40" y2="112.00" stroke="#f07f2e" stroke-width="0.85"/>
<line x1="316.80" y1="89.80" x2="340.40" y2="112.00" stroke="#f07f2e" stroke-width="0.85"/>
<line x1="316.80" y1="89.80" x2="340.40" y2="100.90" stroke="#f07f2e" stroke-width="0.85"/>
<line x1="316.80" y1="95.35" x2="340.40" y2="95.35" stroke="#f07f2e" stroke-width="0.85"/>
<line x1="316.80" y1="95.35" x2="340.40" y2="100.90" stroke="#f07f2e" stroke-width="0.85"/>
<line x1="316.80" y1="95.35" x2="340.40" y2="100.90" stroke="#f07f2e" stroke-width="0.85"/>
<line x1="316.80" y1="95.35" x2="340.40" y2="106.45" stroke="#f07f2e" stroke-width="0.85"/>
<line x1="316.80" y1="95.35" x2="340.40" y2="106.45" stroke="#f07f2e" stroke-width="0.85"/>
<line x1="316.80" y1="95.35" x2="340.40" y2="112.00" stroke="#f07f2e" stroke-width="0.85"/>
<line x1="316.80" y1="95.35" x2="340.40" y2="112.00" stroke="#f07f2e" stroke-width="0.85"/>
<line x1="316.80" y1="95.35" x2="340.40" y2="95.35" stroke="#f07f2e" stroke-width="0.85"/>
<line x1="316.80" y1="100.90" x2="340.40" y2="100.90" stroke="#f07f2e" stroke-width="0.85"/>
<line x1="316.80" y1="100.90" x2="340.40" y2="100.90" stroke="#f07f2e" stroke-width="0.85"/>
<line x1="316.80" y1="100.90" x2="340.40" y2="106.45" stroke="#f07f2e" stroke-width="0.85"/>
<line x1="316.80" y1="100.90" x2="340.40" y2="112.00" stroke="#f07f2e" stroke-width="0.85"/>
<line x1="316.80" y1="100.90" x2="340.40" y2="106.45" stroke="#f07f2e" stroke-width="0.85"/>
<line x1="316.80" y1="100.90" x2="340.40" y2="112.00" stroke="#f07f2e" stroke-width="0.85"/>
<line x1="316.80" y1="100.90" x2="340.40" y2="95.35" stroke="#f07f2e" stroke-width="0.85"/>
<line x1="316.80" y1="78.70" x2="340.40" y2="45.40" stroke="#2b4f98" stroke-width="1.0"/>
<line x1="316.80" y1="89.80" x2="340.40" y2="78.70" stroke="#2b4f98" stroke-width="1.0"/>
<line x1="316.80" y1="100.90" x2="340.40" y2="78.70" stroke="#2b4f98" stroke-width="1.0"/>
<line x1="316.80" y1="95.35" x2="340.40" y2="89.80" stroke="#2b4f98" stroke-width="1.0"/>
<circle cx="316.8" cy="45.40" r="2.05" fill="#000"/>
<circle cx="316.8" cy="62.05" r="2.05" fill="#000"/>
<circle cx="316.8" cy="67.60" r="2.05" fill="#000"/>
<circle cx="316.8" cy="78.70" r="2.05" fill="#000"/>
<circle cx="316.8" cy="89.80" r="2.05" fill="#000"/>
<circle cx="316.8" cy="95.35" r="2.05" fill="#000"/>
<circle cx="316.8" cy="100.90" r="2.05" fill="#000"/>
<circle cx="340.4" cy="45.40" r="2.05" fill="#000"/>
<circle cx="340.4" cy="62.05" r="2.05" fill="#000"/>
<circle cx="340.4" cy="67.60" r="2.05" fill="#000"/>
<circle cx="340.4" cy="78.70" r="2.05" fill="#000"/>
<circle cx="340.4" cy="89.80" r="2.05" fill="#000"/>
<circle cx="340.4" cy="95.35" r="2.05" fill="#000"/>
<circle cx="340.4" cy="100.90" r="2.05" fill="#000"/>
<circle cx="340.4" cy="106.45" r="2.05" fill="#000"/>
<circle cx="340.4" cy="112.00" r="2.05" fill="#000"/>
<text transform="translate(358.20 10.70) scale(1 1.04)" font-size="13.2" font-weight="bold">d</text>
<text transform="translate(414.50 20.80) scale(1 1.1)" font-size="8.35" text-anchor="middle">Cohort 2</text>
<line x1="399.00" y1="25.40" x2="430.50" y2="25.40" stroke="#000" stroke-width="1.1"/>
<text transform="translate(473.30 20.80) scale(1 1.1)" font-size="8.35" text-anchor="middle">NR4A1 low (n=80)</text>
<line x1="433.60" y1="25.40" x2="513.20" y2="25.40" stroke="#000" stroke-width="1.1"/>
<text transform="translate(553.50 20.80) scale(1 1.1)" font-size="8.35" text-anchor="middle">NR4A1 high (n=70)</text>
<line x1="518.80" y1="25.40" x2="588.50" y2="25.40" stroke="#888" stroke-width="1.3"/>
<text transform="translate(657.00 28.80) scale(1 1.15)" font-size="8.15"><tspan font-style="italic">P</tspan> value</text>
<text transform="translate(430.60 43.60) scale(1 1.15)" font-size="8.15" text-anchor="end">T stage</text>
<rect x="433.60" y="32.80" width="79.60" height="15.80" fill="#ee8233"/>
<rect x="433.60" y="32.80" width="18.87" height="15.80" fill="#2a4e8e"/>
<rect x="518.80" y="32.80" width="69.70" height="15.80" fill="#ee8233"/>
<rect x="518.80" y="32.80" width="3.97" height="15.80" fill="#2a4e8e"/>
<text transform="translate(435.60 43.60) scale(0.84 1.1)" font-size="8.1" fill="#fff">23.7%</text>
<text transform="translate(510.40 43.60) scale(0.84 1.1)" font-size="8.1" text-anchor="end" fill="#fff">76.3%</text>
<text transform="translate(520.20 43.60) scale(0.84 1.1)" font-size="8.1" fill="#fff">5.7%</text>
<text transform="translate(585.70 43.60) scale(0.84 1.1)" font-size="8.1" text-anchor="end" fill="#fff">94.3%</text>
<rect x="592.10" y="32.80" width="4.60" height="15.80" fill="#2a4e8e"/>
<text transform="translate(599.00 43.60) scale(1 1.15)" font-size="8.15">T3-4</text>
<rect x="622.20" y="32.80" width="4.00" height="15.80" fill="#ee8233"/>
<text transform="translate(629.50 43.60) scale(1 1.15)" font-size="8.15">T1-2</text>
<text transform="translate(660.00 43.60) scale(1 1.15)" font-size="8.15">0.003</text>
<text transform="translate(430.60 63.60) scale(1 1.15)" font-size="8.15" text-anchor="end">N stage</text>
<rect x="433.60" y="52.80" width="79.60" height="15.80" fill="#ee8233"/>
<rect x="433.60" y="52.80" width="53.73" height="15.80" fill="#2a4e8e"/>
<rect x="518.80" y="52.80" width="69.70" height="15.80" fill="#ee8233"/>
<rect x="518.80" y="52.80" width="33.87" height="15.80" fill="#2a4e8e"/>
<text transform="translate(435.60 63.60) scale(0.84 1.1)" font-size="8.1" fill="#fff">67.5%</text>
<text transform="translate(510.40 63.60) scale(0.84 1.1)" font-size="8.1" text-anchor="end" fill="#fff">32.5%</text>
<text transform="translate(520.20 63.60) scale(0.84 1.1)" font-size="8.1" fill="#fff">48.6%</text>
<text transform="translate(585.70 63.60) scale(0.84 1.1)" font-size="8.1" text-anchor="end" fill="#fff">51.4%</text>
<rect x="592.10" y="52.80" width="4.60" height="15.80" fill="#1c3158"/>
<text transform="translate(599.00 63.60) scale(1 1.15)" font-size="8.15">N1-3</text>
<rect x="622.20" y="52.80" width="4.00" height="15.80" fill="#ee8233"/>
<text transform="translate(629.50 63.60) scale(1 1.15)" font-size="8.15">N0</text>
<text transform="translate(660.00 63.60) scale(1 1.15)" font-size="8.15">0.066</text>
<text transform="translate(430.60 83.60) scale(1 1.15)" font-size="8.15" text-anchor="end">AJCC TNM stage</text>
<rect x="433.60" y="72.80" width="79.60" height="15.80" fill="#ee8233"/>
<rect x="433.60" y="72.80" width="29.85" height="15.80" fill="#2a4e8e"/>
<rect x="518.80" y="72.80" width="69.70" height="15.80" fill="#ee8233"/>
<rect x="518.80" y="72.80" width="14.92" height="15.80" fill="#2a4e8e"/>
<text transform="translate(435.60 83.60) scale(0.84 1.1)" font-size="8.1" fill="#fff">37.5%</text>
<text transform="translate(510.40 83.60) scale(0.84 1.1)" font-size="8.1" text-anchor="end" fill="#fff">62.5%</text>
<text transform="translate(520.20 83.60) scale(0.84 1.1)" font-size="8.1" fill="#fff">21.4%</text>
<text transform="translate(585.70 83.60) scale(0.84 1.1)" font-size="8.1" text-anchor="end" fill="#fff">78.6%</text>
<rect x="592.10" y="72.80" width="4.60" height="15.80" fill="#1c3158"/>
<text transform="translate(599.00 83.60) scale(1 1.15)" font-size="8.15">III</text>
<rect x="622.20" y="72.80" width="4.00" height="15.80" fill="#ee8233"/>
<text transform="translate(629.50 83.60) scale(1 1.15)" font-size="8.15">I-II</text>
<text transform="translate(660.00 83.60) scale(1 1.15)" font-size="8.15">0.034</text>
<text transform="translate(430.60 103.60) scale(1 1.15)" font-size="8.15" text-anchor="end">Ki67+</text>
<rect x="433.60" y="92.80" width="79.60" height="15.80" fill="#ee8233"/>
<rect x="433.60" y="92.80" width="52.77" height="15.80" fill="#2a4e8e"/>
<rect x="518.80" y="92.80" width="69.70" height="15.80" fill="#ee8233"/>
<rect x="518.80" y="92.80" width="29.90" height="15.80" fill="#2a4e8e"/>
<text transform="translate(435.60 103.60) scale(0.84 1.1)" font-size="8.1" fill="#fff">66.3%</text>
<text transform="translate(510.40 103.60) scale(0.84 1.1)" font-size="8.1" text-anchor="end" fill="#fff">33.7%</text>
<text transform="translate(520.20 103.60) scale(0.84 1.1)" font-size="8.1" fill="#fff">42.9%</text>
<text transform="translate(585.70 103.60) scale(0.84 1.1)" font-size="8.1" text-anchor="end" fill="#fff">57.1%</text>
<rect x="592.10" y="92.80" width="4.60" height="15.80" fill="#1c3158"/>
<text transform="translate(599.00 103.60) scale(1 1.15)" font-size="8.15">≥10%</text>
<rect x="622.20" y="92.80" width="4.00" height="15.80" fill="#ee8233"/>
<text transform="translate(629.50 103.60) scale(1 1.15)" font-size="8.15">&lt;10%</text>
<text transform="translate(660.00 103.60) scale(1 1.15)" font-size="8.15">0.005</text>
<text transform="translate(430.60 121.50) scale(1 1.15)" font-size="8.15" text-anchor="end">Histological grade</text>
<rect x="433.60" y="112.80" width="79.60" height="15.80" fill="#ee8233"/>
<rect x="433.60" y="112.80" width="58.74" height="15.80" fill="#2a4e8e"/>
<rect x="518.80" y="112.80" width="69.70" height="15.80" fill="#ee8233"/>
<rect x="518.80" y="112.80" width="47.81" height="15.80" fill="#2a4e8e"/>
<text transform="translate(435.60 123.60) scale(0.84 1.1)" font-size="8.1" fill="#fff">73.8%</text>
<text transform="translate(510.40 123.60) scale(0.84 1.1)" font-size="8.1" text-anchor="end" fill="#fff">26.2%</text>
<text transform="translate(520.20 123.60) scale(0.84 1.1)" font-size="8.1" fill="#fff">68.6%</text>
<text transform="translate(585.70 123.60) scale(0.84 1.1)" font-size="8.1" text-anchor="end" fill="#fff">31.4%</text>
<rect x="592.10" y="112.80" width="4.60" height="15.80" fill="#2a4e8e"/>
<text transform="translate(599.00 123.60) scale(1 1.15)" font-size="8.15">II-III</text>
<rect x="622.20" y="112.80" width="4.00" height="15.80" fill="#ee8233"/>
<text transform="translate(629.50 123.60) scale(1 1.15)" font-size="8.15">I</text>
<text transform="translate(660.00 123.60) scale(1 1.15)" font-size="8.15">0.588</text>
<text transform="translate(430.60 143.60) scale(1 1.15)" font-size="8.15" text-anchor="end">Age</text>
<rect x="433.60" y="132.80" width="79.60" height="15.80" fill="#ee8233"/>
<rect x="433.60" y="132.80" width="19.90" height="15.80" fill="#2a4e8e"/>
<rect x="518.80" y="132.80" width="69.70" height="15.80" fill="#ee8233"/>
<rect x="518.80" y="132.80" width="22.93" height="15.80" fill="#2a4e8e"/>
<text transform="translate(435.60 143.60) scale(0.84 1.1)" font-size="8.1" fill="#fff">25.0%</text>
<text transform="translate(510.40 143.60) scale(0.84 1.1)" font-size="8.1" text-anchor="end" fill="#fff">75.0%</text>
<text transform="translate(520.20 143.60) scale(0.84 1.1)" font-size="8.1" fill="#fff">32.9%</text>
<text transform="translate(585.70 143.60) scale(0.84 1.1)" font-size="8.1" text-anchor="end" fill="#fff">67.1%</text>
<rect x="592.10" y="132.80" width="4.60" height="15.80" fill="#2a4e8e"/>
<text transform="translate(599.00 143.60) scale(1 1.15)" font-size="8.15">≥60y</text>
<rect x="622.20" y="132.80" width="4.00" height="15.80" fill="#ee8233"/>
<text transform="translate(629.50 143.60) scale(1 1.15)" font-size="8.15">&lt;60y</text>
<text transform="translate(660.00 143.60) scale(1 1.15)" font-size="8.15">0.366</text>
<line x1="656.30" y1="32.60" x2="656.30" y2="148.60" stroke="#8a8a8a" stroke-width="1.0"/>
<text transform="translate(0.30 177.50) scale(1 1.04)" font-size="13.2" font-weight="bold">e</text>
<text transform="translate(122.10 188.00) scale(1 1.15)" font-size="8.0" text-anchor="middle">AJCC TNM stage</text>
<line x1="26.60" y1="192.90" x2="219.80" y2="192.90" stroke="#000" stroke-width="1.1"/>
<text transform="translate(56.00 204.20) scale(1 1.1)" font-size="8.35" text-anchor="middle">I</text>
<text transform="translate(122.50 204.20) scale(1 1.1)" font-size="8.35" text-anchor="middle">II</text>
<text transform="translate(190.00 204.20) scale(1 1.1)" font-size="8.35" text-anchor="middle">III</text>
<text transform="translate(15.80 267.30) rotate(-90) scale(1 1.1)" font-size="8.4" text-anchor="middle">NR4A1 IHC</text>
<rect x="25.50" y="207.30" width="59.50" height="58.80" fill="#fcfbfb"/>
<g clip-path="url(#cp7)"><g>
<circle cx="55.30" cy="236.70" r="25.50" fill="#e6dcdd"/>
<ellipse cx="56.0" cy="246.0" rx="1.2" ry="7.0" transform="rotate(8 56.0 246.0)" fill="#f8f6f6" opacity="0.9"/>
<ellipse cx="47.0" cy="224.0" rx="8.0" ry="10.0" transform="rotate(0 47.0 224.0)" fill="#e8dfe2" opacity="0.6"/>
<rect x="29.799999999999997" y="211.2" width="51.0" height="51.0" filter="url(#nf14)"/>
<rect x="29.799999999999997" y="211.2" width="51.0" height="51.0" filter="url(#nf15)"/>
<rect x="29.799999999999997" y="211.2" width="51.0" height="51.0" filter="url(#nf16)"/>
</g></g>
<rect x="26.00" y="207.80" width="58.50" height="57.80" fill="none" stroke="#333" stroke-width="1.1"/>
<rect x="93.00" y="207.30" width="59.50" height="58.80" fill="#fcfbfb"/>
<g clip-path="url(#cp8)"><g>
<circle cx="122.50" cy="237.40" r="27.60" fill="#dbd2dd"/>
<rect x="94.9" y="209.8" width="55.2" height="55.2" filter="url(#nf17)"/>
<rect x="94.9" y="209.8" width="55.2" height="55.2" filter="url(#nf18)"/>
<rect x="94.9" y="209.8" width="55.2" height="55.2" filter="url(#nf19)"/>
</g></g>
<rect x="93.50" y="207.80" width="58.50" height="57.80" fill="none" stroke="#333" stroke-width="1.1"/>
<rect x="160.40" y="207.30" width="59.50" height="58.80" fill="#fcfbfb"/>
<g clip-path="url(#cp9)"><g>
<circle cx="189.30" cy="236.20" r="26.50" fill="#eee9e9"/>
<ellipse cx="172.0" cy="226.0" rx="9.0" ry="13.0" transform="rotate(20 172.0 226.0)" fill="#f7f3f1" opacity="0.85"/>
<rect x="162.8" y="209.7" width="53.0" height="53.0" filter="url(#nf20)"/>
<rect x="162.8" y="209.7" width="53.0" height="53.0" filter="url(#nf21)"/>
<rect x="162.8" y="209.7" width="53.0" height="53.0" filter="url(#nf22)"/>
</g></g>
<rect x="160.90" y="207.80" width="58.50" height="57.80" fill="none" stroke="#333" stroke-width="1.1"/>
<rect x="56.2" y="220.1" width="15.3" height="14.8" fill="none" stroke="#505050" stroke-width="0.8"/>
<rect x="114.1" y="226.2" width="14.8" height="15.3" fill="none" stroke="#505050" stroke-width="0.8"/>
<rect x="184" y="234.2" width="14.7" height="15.4" fill="none" stroke="#505050" stroke-width="0.8"/>
<line x1="28.70" y1="261.60" x2="34.80" y2="261.60" stroke="#000" stroke-width="1.6"/>
<line x1="96.20" y1="261.60" x2="102.30" y2="261.60" stroke="#000" stroke-width="1.6"/>
<line x1="163.60" y1="261.60" x2="169.70" y2="261.60" stroke="#000" stroke-width="1.6"/>
<g clip-path="url(#cp10)"><g>
<rect x="25.5" y="269.6" width="59.5" height="59.2" fill="#ebe4dc"/>
<rect x="25.5" y="269.6" width="59.5" height="59.2" filter="url(#nf23)"/>
<rect x="25.5" y="269.6" width="59.5" height="59.2" filter="url(#nf24)"/>
<rect x="25.5" y="269.6" width="59.5" height="59.2" filter="url(#nf25)"/>
<rect x="25.5" y="269.6" width="59.5" height="59.2" filter="url(#nf26)"/>
</g></g>
<rect x="26.00" y="270.10" width="58.50" height="58.20" fill="none" stroke="#333" stroke-width="1.1"/>
<line x1="28.60" y1="325.10" x2="53.10" y2="325.10" stroke="#000" stroke-width="1.6"/>
<g clip-path="url(#cp11)"><g>
<rect x="93.0" y="269.6" width="59.5" height="59.2" fill="#e2dde8"/>
<rect x="93.0" y="269.6" width="59.5" height="59.2" filter="url(#nf27)"/>
<rect x="93.0" y="269.6" width="59.5" height="59.2" filter="url(#nf28)"/>
<rect x="93.0" y="269.6" width="59.5" height="59.2" filter="url(#nf29)"/>
<rect x="93.0" y="269.6" width="59.5" height="59.2" filter="url(#nf30)"/>
</g></g>
<rect x="93.50" y="270.10" width="58.50" height="58.20" fill="none" stroke="#333" stroke-width="1.1"/>
<line x1="96.10" y1="325.10" x2="120.60" y2="325.10" stroke="#000" stroke-width="1.6"/>
<g clip-path="url(#cp12)"><g>
<rect x="160.4" y="269.6" width="59.5" height="59.2" fill="#f5f2f0"/>
<rect x="160.4" y="269.6" width="59.5" height="59.2" filter="url(#nf31)"/>
<rect x="160.4" y="269.6" width="59.5" height="59.2" filter="url(#nf32)"/>
<rect x="160.4" y="269.6" width="59.5" height="59.2" filter="url(#nf33)"/>
<rect x="160.4" y="269.6" width="59.5" height="59.2" filter="url(#nf34)"/>
</g></g>
<rect x="160.90" y="270.10" width="58.50" height="58.20" fill="none" stroke="#333" stroke-width="1.1"/>
<line x1="163.50" y1="325.10" x2="188.00" y2="325.10" stroke="#000" stroke-width="1.6"/>
<text transform="translate(266.50 177.60) scale(1 1.04)" font-size="13.2" font-weight="bold">f</text>
<line x1="304.00" y1="194.40" x2="304.00" y2="309.40" stroke="#000" stroke-width="1.1"/>
<line x1="303.50" y1="309.00" x2="433.70" y2="309.00" stroke="#000" stroke-width="1.1"/>
<line x1="301.40" y1="305.00" x2="304.00" y2="305.00" stroke="#000" stroke-width="1.1"/>
<text transform="translate(300.40 307.90) scale(1 1.1)" font-size="8.35" text-anchor="end">0.0</text>
<line x1="301.40" y1="284.88" x2="304.00" y2="284.88" stroke="#000" stroke-width="1.1"/>
<text transform="translate(300.40 287.78) scale(1 1.1)" font-size="8.35" text-anchor="end">0.2</text>
<line x1="301.40" y1="264.76" x2="304.00" y2="264.76" stroke="#000" stroke-width="1.1"/>
<text transform="translate(300.40 267.66) scale(1 1.1)" font-size="8.35" text-anchor="end">0.4</text>
<line x1="301.40" y1="244.64" x2="304.00" y2="244.64" stroke="#000" stroke-width="1.1"/>
<text transform="translate(300.40 247.54) scale(1 1.1)" font-size="8.35" text-anchor="end">0.6</text>
<line x1="301.40" y1="224.52" x2="304.00" y2="224.52" stroke="#000" stroke-width="1.1"/>
<text transform="translate(300.40 227.42) scale(1 1.1)" font-size="8.35" text-anchor="end">0.8</text>
<line x1="301.40" y1="204.40" x2="304.00" y2="204.40" stroke="#000" stroke-width="1.1"/>
<text transform="translate(300.40 207.30) scale(1 1.1)" font-size="8.35" text-anchor="end">1.0</text>
<line x1="308.60" y1="309.00" x2="308.60" y2="311.60" stroke="#000" stroke-width="1.1"/>
<text transform="translate(308.60 320.10) scale(1 1.1)" font-size="8.35" text-anchor="middle">0</text>
<line x1="329.53" y1="309.00" x2="329.53" y2="311.60" stroke="#000" stroke-width="1.1"/>
<text transform="translate(329.53 320.10) scale(1 1.1)" font-size="8.35" text-anchor="middle">50</text>
<line x1="350.45" y1="309.00" x2="350.45" y2="311.60" stroke="#000" stroke-width="1.1"/>
<text transform="translate(350.45 320.10) scale(1 1.1)" font-size="8.35" text-anchor="middle">100</text>
<line x1="371.38" y1="309.00" x2="371.38" y2="311.60" stroke="#000" stroke-width="1.1"/>
<text transform="translate(371.38 320.10) scale(1 1.1)" font-size="8.35" text-anchor="middle">150</text>
<line x1="392.30" y1="309.00" x2="392.30" y2="311.60" stroke="#000" stroke-width="1.1"/>
<text transform="translate(392.30 320.10) scale(1 1.1)" font-size="8.35" text-anchor="middle">200</text>
<line x1="413.23" y1="309.00" x2="413.23" y2="311.60" stroke="#000" stroke-width="1.1"/>
<text transform="translate(413.23 320.10) scale(1 1.1)" font-size="8.35" text-anchor="middle">250</text>
<text transform="translate(367.10 189.60) scale(1 1.1)" font-size="8.35" text-anchor="middle">TCGA</text>
<text transform="translate(285.00 250.50) rotate(-90) scale(1 1.1)" font-size="8.4" text-anchor="middle">Probability</text>
<text transform="translate(369.30 333.00) scale(1 1.1)" font-size="8.35" text-anchor="middle">OS survival (months)</text>
<path d="M308.60,203.30 L312.00,205.00 L316.30,207.40 L321.00,211.00 L326.60,215.50 L330.00,217.50 L334.70,219.60 L338.00,222.50 L341.90,225.80 L344.00,230.00 L346.00,234.00 L348.00,237.50 L351.00,240.10 L351.70,242.30 L356.10,243.00 L357.50,244.50 L358.20,246.70" fill="none" stroke="#000" stroke-width="1.5" stroke-linejoin="round"/>
<path d="M308.60,203.30 L316.00,203.80 L319.40,204.70 L322.00,207.00 L324.50,210.40 L327.00,213.50 L330.70,216.60 L335.00,219.00 L340.90,222.70 L344.00,225.00 L347.00,227.80 L350.00,229.00 L353.10,230.90 L355.00,234.00 L358.20,237.90" fill="none" stroke="#f21c1c" stroke-width="1.5" stroke-linejoin="round"/>
<path d="M308.60,203.30 L312.00,205.00 L316.30,207.40 L321.00,211.00 L326.60,215.50 L330.00,217.50 L334.70,219.60 L338.00,222.50 L341.90,225.80 L344.00,230.00 L346.00,234.00 L348.00,237.50 L351.00,240.10 L351.70,242.30 L356.10,243.00 L357.50,244.50 L358.20,246.70 L358.70,253.20 L361.90,253.20 L364.10,256.20 L364.80,260.50 L366.30,266.40 L367.70,268.60 L369.90,271.50 L400.10,271.50 L400.10,277.30 L414.50,277.30 L414.50,286.40 L431.20,286.40" fill="none" stroke="#3a3a3a" stroke-width="0.65" stroke-linejoin="round"/>
<path d="M308.60,203.30 L316.00,203.80 L319.40,204.70 L322.00,207.00 L324.50,210.40 L327.00,213.50 L330.70,216.60 L335.00,219.00 L340.90,222.70 L344.00,225.00 L347.00,227.80 L350.00,229.00 L353.10,230.90 L355.00,234.00 L358.20,237.90 L359.00,240.50 L361.60,240.50 L361.60,244.20 L372.40,244.20 L372.40,249.60 L402.50,249.60 L402.50,263.50 L431.20,263.50" fill="none" stroke="#f42424" stroke-width="0.65" stroke-linejoin="round"/>
<line x1="378.70" y1="248.00" x2="378.70" y2="251.20" stroke="#f21c1c" stroke-width="0.8"/>
<line x1="380.10" y1="248.00" x2="380.10" y2="251.20" stroke="#f21c1c" stroke-width="0.8"/>
<line x1="382.30" y1="248.00" x2="382.30" y2="251.20" stroke="#f21c1c" stroke-width="0.8"/>
<line x1="369.90" y1="242.60" x2="369.90" y2="245.80" stroke="#f21c1c" stroke-width="0.8"/>
<line x1="419.60" y1="261.90" x2="419.60" y2="265.10" stroke="#f21c1c" stroke-width="0.8"/>
<line x1="422.50" y1="261.90" x2="422.50" y2="265.10" stroke="#f21c1c" stroke-width="0.8"/>
<line x1="430.50" y1="261.90" x2="430.50" y2="265.10" stroke="#f21c1c" stroke-width="0.8"/>
<line x1="360.00" y1="238.90" x2="360.00" y2="242.10" stroke="#f21c1c" stroke-width="0.8"/>
<line x1="356.00" y1="234.40" x2="356.00" y2="237.60" stroke="#f21c1c" stroke-width="0.8"/>
<line x1="390.40" y1="269.90" x2="390.40" y2="273.10" stroke="#000" stroke-width="0.8"/>
<line x1="398.40" y1="269.90" x2="398.40" y2="273.10" stroke="#000" stroke-width="0.8"/>
<line x1="410.10" y1="275.70" x2="410.10" y2="278.90" stroke="#000" stroke-width="0.8"/>
<line x1="427.60" y1="284.80" x2="427.60" y2="288.00" stroke="#000" stroke-width="0.8"/>
<line x1="429.30" y1="284.80" x2="429.30" y2="288.00" stroke="#000" stroke-width="0.8"/>
<line x1="365.00" y1="256.40" x2="365.00" y2="259.60" stroke="#000" stroke-width="0.8"/>
<line x1="360.50" y1="251.60" x2="360.50" y2="254.80" stroke="#000" stroke-width="0.8"/>
<line x1="353.00" y1="240.90" x2="353.00" y2="244.10" stroke="#000" stroke-width="0.8"/>
<line x1="306.20" y1="291.00" x2="320.20" y2="291.00" stroke="#f21c1c" stroke-width="1.1"/>
<line x1="306.20" y1="301.90" x2="320.20" y2="301.90" stroke="#000" stroke-width="1.1"/>
<text transform="translate(322.80 293.90) scale(1 1.1)" font-size="8.2">NR4A1 high (n=440)</text>
<text transform="translate(322.80 304.80) scale(1 1.1)" font-size="8.2">NR4A1 low (n=649)</text>
<text transform="translate(349.60 258.10) scale(1 1.1)" font-size="8.35" text-anchor="end"><tspan font-style="italic">HR</tspan> = 0.660</text>
<text transform="translate(349.60 267.00) scale(1 1.1)" font-size="8.35" text-anchor="end"><tspan font-style="italic">P</tspan> = 0.016</text>
<text transform="translate(480.30 177.60) scale(1 1.04)" font-size="13.2" font-weight="bold">g</text>
<line x1="519.00" y1="194.40" x2="519.00" y2="309.40" stroke="#000" stroke-width="1.1"/>
<line x1="518.50" y1="309.00" x2="648.60" y2="309.00" stroke="#000" stroke-width="1.1"/>
<line x1="516.40" y1="305.00" x2="519.00" y2="305.00" stroke="#000" stroke-width="1.1"/>
<text transform="translate(515.40 307.90) scale(1 1.1)" font-size="8.35" text-anchor="end">0.0</text>
<line x1="516.40" y1="284.88" x2="519.00" y2="284.88" stroke="#000" stroke-width="1.1"/>
<text transform="translate(515.40 287.78) scale(1 1.1)" font-size="8.35" text-anchor="end">0.2</text>
<line x1="516.40" y1="264.76" x2="519.00" y2="264.76" stroke="#000" stroke-width="1.1"/>
<text transform="translate(515.40 267.66) scale(1 1.1)" font-size="8.35" text-anchor="end">0.4</text>
<line x1="516.40" y1="244.64" x2="519.00" y2="244.64" stroke="#000" stroke-width="1.1"/>
<text transform="translate(515.40 247.54) scale(1 1.1)" font-size="8.35" text-anchor="end">0.6</text>
<line x1="516.40" y1="224.52" x2="519.00" y2="224.52" stroke="#000" stroke-width="1.1"/>
<text transform="translate(515.40 227.42) scale(1 1.1)" font-size="8.35" text-anchor="end">0.8</text>
<line x1="516.40" y1="204.40" x2="519.00" y2="204.40" stroke="#000" stroke-width="1.1"/>
<text transform="translate(515.40 207.30) scale(1 1.1)" font-size="8.35" text-anchor="end">1.0</text>
<line x1="526.00" y1="309.00" x2="526.00" y2="311.60" stroke="#000" stroke-width="1.1"/>
<text transform="translate(526.00 320.10) scale(1 1.1)" font-size="8.35" text-anchor="middle">0</text>
<line x1="556.62" y1="309.00" x2="556.62" y2="311.60" stroke="#000" stroke-width="1.1"/>
<text transform="translate(556.62 320.10) scale(1 1.1)" font-size="8.35" text-anchor="middle">50</text>
<line x1="587.25" y1="309.00" x2="587.25" y2="311.60" stroke="#000" stroke-width="1.1"/>
<text transform="translate(587.25 320.10) scale(1 1.1)" font-size="8.35" text-anchor="middle">100</text>
<line x1="617.88" y1="309.00" x2="617.88" y2="311.60" stroke="#000" stroke-width="1.1"/>
<text transform="translate(617.88 320.10) scale(1 1.1)" font-size="8.35" text-anchor="middle">150</text>
<line x1="648.50" y1="309.00" x2="648.50" y2="311.60" stroke="#000" stroke-width="1.1"/>
<text transform="translate(648.50 320.10) scale(1 1.1)" font-size="8.35" text-anchor="middle">200</text>
<text transform="translate(583.80 189.60) scale(1 1.1)" font-size="8.35" text-anchor="middle">Cohort 2</text>
<text transform="translate(499.80 251.00) rotate(-90) scale(1 1.1)" font-size="8.4" text-anchor="middle">Survival probability</text>
<text transform="translate(583.80 333.00) scale(1 1.1)" font-size="8.35" text-anchor="middle">OS survival (months)</text>
<path d="M525.90,204.10 L543.90,204.10 L543.90,205.50 L547.40,205.50 L547.40,207.60 L551.80,207.60 L551.80,208.70 L557.00,208.70 L557.00,210.40 L561.40,210.40 L561.40,212.50 L563.20,212.50 L563.20,214.30 L571.90,214.30 L571.90,215.50 L575.40,215.50 L575.40,216.90 L579.80,216.90 L579.80,218.70 L582.40,218.70 L582.40,220.40 L585.10,220.40 L585.10,223.00 L614.90,223.00 L614.90,227.40 L625.40,227.40" fill="none" stroke="#f21c1c" stroke-width="1.0" stroke-linejoin="round"/>
<path d="M525.90,204.10 L528.00,204.10 L528.00,205.50 L530.00,205.50 L530.00,207.00 L532.50,207.00 L532.50,208.70 L535.00,208.70 L535.00,209.80 L537.00,209.80 L537.00,211.20 L539.50,211.20 L539.50,212.50 L541.50,212.50 L541.50,214.00 L543.90,214.00 L543.90,216.00 L545.50,216.00 L545.50,217.40 L547.40,217.40 L547.40,218.70 L550.00,218.70 L550.00,219.70 L553.50,219.70 L553.50,221.30 L556.00,221.30 L556.00,222.00 L558.80,222.00 L558.80,223.00 L560.50,223.00 L560.50,224.40 L562.30,224.40 L562.30,225.70 L564.00,225.70 L564.00,227.00 L565.80,227.00 L565.80,228.30 L569.00,228.30 L569.00,229.50 L572.80,229.50 L572.80,230.90 L575.00,230.90 L575.00,231.80 L578.10,231.80 L578.10,232.70 L581.00,232.70 L581.00,233.50 L585.10,233.50 L585.10,234.40 L592.10,234.40 L592.10,235.60 L593.80,235.60 L593.80,237.00 L598.20,237.00 L598.20,238.40 L600.00,238.40 L600.00,239.80 L602.60,239.80 L602.60,241.40 L625.40,241.40" fill="none" stroke="#000" stroke-width="1.0" stroke-linejoin="round"/>
<line x1="566.50" y1="210.90" x2="566.50" y2="213.70" stroke="#f21c1c" stroke-width="0.8"/>
<line x1="569.00" y1="210.90" x2="569.00" y2="213.70" stroke="#f21c1c" stroke-width="0.8"/>
<line x1="578.50" y1="217.10" x2="578.50" y2="219.90" stroke="#f21c1c" stroke-width="0.8"/>
<line x1="590.00" y1="221.40" x2="590.00" y2="224.20" stroke="#f21c1c" stroke-width="0.8"/>
<line x1="592.30" y1="221.40" x2="592.30" y2="224.20" stroke="#f21c1c" stroke-width="0.8"/>
<line x1="594.60" y1="221.40" x2="594.60" y2="224.20" stroke="#f21c1c" stroke-width="0.8"/>
<line x1="596.90" y1="221.40" x2="596.90" y2="224.20" stroke="#f21c1c" stroke-width="0.8"/>
<line x1="599.20" y1="221.40" x2="599.20" y2="224.20" stroke="#f21c1c" stroke-width="0.8"/>
<line x1="601.50" y1="221.40" x2="601.50" y2="224.20" stroke="#f21c1c" stroke-width="0.8"/>
<line x1="603.80" y1="221.40" x2="603.80" y2="224.20" stroke="#f21c1c" stroke-width="0.8"/>
<line x1="606.10" y1="221.40" x2="606.10" y2="224.20" stroke="#f21c1c" stroke-width="0.8"/>
<line x1="608.40" y1="221.40" x2="608.40" y2="224.20" stroke="#f21c1c" stroke-width="0.8"/>
<line x1="610.70" y1="221.40" x2="610.70" y2="224.20" stroke="#f21c1c" stroke-width="0.8"/>
<line x1="613.00" y1="221.40" x2="613.00" y2="224.20" stroke="#f21c1c" stroke-width="0.8"/>
<line x1="616.00" y1="225.80" x2="616.00" y2="228.80" stroke="#f21c1c" stroke-width="0.9"/>
<line x1="617.50" y1="225.80" x2="617.50" y2="228.80" stroke="#f21c1c" stroke-width="0.9"/>
<line x1="619.00" y1="225.80" x2="619.00" y2="228.80" stroke="#f21c1c" stroke-width="0.9"/>
<line x1="620.50" y1="225.80" x2="620.50" y2="228.80" stroke="#f21c1c" stroke-width="0.9"/>
<line x1="622.00" y1="225.80" x2="622.00" y2="228.80" stroke="#f21c1c" stroke-width="0.9"/>
<line x1="623.50" y1="225.80" x2="623.50" y2="228.80" stroke="#f21c1c" stroke-width="0.9"/>
<line x1="625.00" y1="225.80" x2="625.00" y2="228.80" stroke="#f21c1c" stroke-width="0.9"/>
<line x1="585.00" y1="232.80" x2="585.00" y2="235.60" stroke="#000" stroke-width="0.8"/>
<line x1="595.50" y1="235.40" x2="595.50" y2="238.20" stroke="#000" stroke-width="0.8"/>
<line x1="603.50" y1="239.80" x2="603.50" y2="242.60" stroke="#000" stroke-width="0.8"/>
<line x1="605.30" y1="239.80" x2="605.30" y2="242.60" stroke="#000" stroke-width="0.8"/>
<line x1="607.10" y1="239.80" x2="607.10" y2="242.60" stroke="#000" stroke-width="0.8"/>
<line x1="608.90" y1="239.80" x2="608.90" y2="242.60" stroke="#000" stroke-width="0.8"/>
<line x1="610.70" y1="239.80" x2="610.70" y2="242.60" stroke="#000" stroke-width="0.8"/>
<line x1="612.50" y1="239.80" x2="612.50" y2="242.60" stroke="#000" stroke-width="0.8"/>
<line x1="614.30" y1="239.80" x2="614.30" y2="242.60" stroke="#000" stroke-width="0.8"/>
<line x1="616.10" y1="239.80" x2="616.10" y2="242.60" stroke="#000" stroke-width="0.8"/>
<line x1="617.90" y1="239.80" x2="617.90" y2="242.60" stroke="#000" stroke-width="0.8"/>
<line x1="619.70" y1="239.80" x2="619.70" y2="242.60" stroke="#000" stroke-width="0.8"/>
<line x1="621.50" y1="239.80" x2="621.50" y2="242.60" stroke="#000" stroke-width="0.8"/>
<line x1="623.30" y1="239.80" x2="623.30" y2="242.60" stroke="#000" stroke-width="0.8"/>
<line x1="521.60" y1="291.40" x2="533.30" y2="291.40" stroke="#f21c1c" stroke-width="1.1"/>
<line x1="527.50" y1="289.40" x2="527.50" y2="291.40" stroke="#f21c1c" stroke-width="1"/>
<line x1="521.60" y1="302.40" x2="533.30" y2="302.40" stroke="#000" stroke-width="1.1"/>
<line x1="527.50" y1="300.40" x2="527.50" y2="302.40" stroke="#000" stroke-width="1"/>
<text transform="translate(538.40 294.30) scale(1 1.1)" font-size="8.35">NR4A1 high (n=70)</text>
<text transform="translate(538.40 305.30) scale(1 1.1)" font-size="8.35">NR4A1 low (n=80)</text>
<text transform="translate(565.30 258.10) scale(1 1.1)" font-size="8.35" text-anchor="end"><tspan font-style="italic">HR</tspan> = 0.497</text>
<text transform="translate(565.30 267.40) scale(1 1.1)" font-size="8.35" text-anchor="end"><tspan font-style="italic">P</tspan> = 0.028</text>
<text transform="translate(3.30 361.80) scale(1 1.04)" font-size="13.2" font-weight="bold">h</text>
<text transform="translate(115.80 369.80) scale(1 1.1)" font-size="8.35" text-anchor="end">Cohort 2</text>
<line x1="82.90" y1="373.20" x2="116.70" y2="373.20" stroke="#000" stroke-width="1.1"/>
<text transform="translate(115.80 384.40) scale(1 1.1)" font-size="8.35" text-anchor="end">Univariable risk factor</text>
<line x1="36.60" y1="387.10" x2="117.30" y2="387.10" stroke="#000" stroke-width="1.1"/>
<line x1="121.50" y1="390.20" x2="121.50" y2="504.30" stroke="#000" stroke-width="1.1"/>
<line x1="121.00" y1="503.80" x2="211.60" y2="503.80" stroke="#000" stroke-width="1.1"/>
<line x1="121.50" y1="503.80" x2="121.50" y2="506.10" stroke="#000" stroke-width="1.1"/>
<text transform="translate(121.50 514.60) scale(1 1.1)" font-size="8.35" text-anchor="middle">0.1</text>
<line x1="166.55" y1="503.80" x2="166.55" y2="506.10" stroke="#000" stroke-width="1.1"/>
<text transform="translate(166.55 514.60) scale(1 1.1)" font-size="8.35" text-anchor="middle">1</text>
<line x1="211.60" y1="503.80" x2="211.60" y2="506.10" stroke="#000" stroke-width="1.1"/>
<text transform="translate(211.60 514.60) scale(1 1.1)" font-size="8.35" text-anchor="middle">10</text>
<line x1="135.06" y1="503.80" x2="135.06" y2="505.20" stroke="#000" stroke-width="0.8"/>
<line x1="142.99" y1="503.80" x2="142.99" y2="505.20" stroke="#000" stroke-width="0.8"/>
<line x1="148.62" y1="503.80" x2="148.62" y2="505.20" stroke="#000" stroke-width="0.8"/>
<line x1="152.99" y1="503.80" x2="152.99" y2="505.20" stroke="#000" stroke-width="0.8"/>
<line x1="156.56" y1="503.80" x2="156.56" y2="505.20" stroke="#000" stroke-width="0.8"/>
<line x1="159.57" y1="503.80" x2="159.57" y2="505.20" stroke="#000" stroke-width="0.8"/>
<line x1="162.18" y1="503.80" x2="162.18" y2="505.20" stroke="#000" stroke-width="0.8"/>
<line x1="164.49" y1="503.80" x2="164.49" y2="505.20" stroke="#000" stroke-width="0.8"/>
<line x1="180.11" y1="503.80" x2="180.11" y2="505.20" stroke="#000" stroke-width="0.8"/>
<line x1="188.04" y1="503.80" x2="188.04" y2="505.20" stroke="#000" stroke-width="0.8"/>
<line x1="193.67" y1="503.80" x2="193.67" y2="505.20" stroke="#000" stroke-width="0.8"/>
<line x1="198.04" y1="503.80" x2="198.04" y2="505.20" stroke="#000" stroke-width="0.8"/>
<line x1="201.61" y1="503.80" x2="201.61" y2="505.20" stroke="#000" stroke-width="0.8"/>
<line x1="204.62" y1="503.80" x2="204.62" y2="505.20" stroke="#000" stroke-width="0.8"/>
<line x1="207.23" y1="503.80" x2="207.23" y2="505.20" stroke="#000" stroke-width="0.8"/>
<line x1="209.54" y1="503.80" x2="209.54" y2="505.20" stroke="#000" stroke-width="0.8"/>
<line x1="166.55" y1="390.20" x2="166.55" y2="503.80" stroke="#000" stroke-width="1.3" stroke-dasharray="1.2,1.9"/>
<text transform="translate(166.55 527.80) scale(1 1.1)" font-size="8.35" text-anchor="middle"><tspan font-style="italic">HR</tspan> (95% <tspan font-style="italic">CI</tspan>)</text>
<text transform="translate(245.80 382.90) scale(1 1.1)" font-size="8.35" text-anchor="middle"><tspan font-style="italic">HR</tspan> (95% <tspan font-style="italic">CI</tspan>)</text>
<text transform="translate(310.60 382.90) scale(1 1.1)" font-size="8.35" text-anchor="middle"><tspan font-style="italic">P</tspan> value</text>
<line x1="214.90" y1="387.50" x2="324.20" y2="387.50" stroke="#000" stroke-width="1.1"/>
<text transform="translate(115.80 404.70) scale(1 1.1)" font-size="8.5" text-anchor="end">NR4A1 (low vs high)</text>
<line x1="119.10" y1="401.80" x2="121.50" y2="401.80" stroke="#000" stroke-width="1.1"/>
<line x1="167.76" y1="401.80" x2="192.76" y2="401.80" stroke="#f61e1e" stroke-width="1.2"/>
<line x1="167.76" y1="399.60" x2="167.76" y2="404.00" stroke="#f61e1e" stroke-width="1.1"/>
<line x1="192.76" y1="399.60" x2="192.76" y2="404.00" stroke="#f61e1e" stroke-width="1.1"/>
<circle cx="180.23" cy="401.80" r="2.35" fill="#f61e1e"/>
<text transform="translate(251.70 404.70) scale(1 1.1)" font-size="8.35" text-anchor="middle">2.012(1.064-3.817)</text>
<text transform="translate(310.60 404.70) scale(1 1.1)" font-size="8.35" text-anchor="middle">0.032</text>
<text transform="translate(115.80 419.80) scale(1 1.1)" font-size="8.5" text-anchor="end">T stage (T3-4 vs T1-2)</text>
<line x1="119.10" y1="416.90" x2="121.50" y2="416.90" stroke="#000" stroke-width="1.1"/>
<line x1="171.33" y1="416.90" x2="198.22" y2="416.90" stroke="#f61e1e" stroke-width="1.2"/>
<line x1="171.33" y1="414.70" x2="171.33" y2="419.10" stroke="#f61e1e" stroke-width="1.1"/>
<line x1="198.22" y1="414.70" x2="198.22" y2="419.10" stroke="#f61e1e" stroke-width="1.1"/>
<circle cx="184.77" cy="416.90" r="2.35" fill="#f61e1e"/>
<text transform="translate(251.70 419.80) scale(1 1.1)" font-size="8.35" text-anchor="middle">2.538(1.277-5.046)</text>
<text transform="translate(310.60 419.80) scale(1 1.1)" font-size="8.35" text-anchor="middle">0.008</text>
<text transform="translate(115.80 435.20) scale(1 1.1)" font-size="8.5" text-anchor="end">N stage (N1-3 vs N0)</text>
<line x1="119.10" y1="432.30" x2="121.50" y2="432.30" stroke="#000" stroke-width="1.1"/>
<line x1="158.74" y1="432.30" x2="182.95" y2="432.30" stroke="#000" stroke-width="1.2"/>
<line x1="158.74" y1="430.10" x2="158.74" y2="434.50" stroke="#000" stroke-width="1.1"/>
<line x1="182.95" y1="430.10" x2="182.95" y2="434.50" stroke="#000" stroke-width="1.1"/>
<circle cx="170.85" cy="432.30" r="2.35" fill="#000"/>
<text transform="translate(251.70 435.20) scale(1 1.1)" font-size="8.35" text-anchor="middle">1.246(0.671-2.312)</text>
<text transform="translate(310.60 435.20) scale(1 1.1)" font-size="8.35" text-anchor="middle">0.487</text>
<text transform="translate(115.80 450.40) scale(1 1.1)" font-size="8.5" text-anchor="end">AJCC TNM stage (III vs I-II)</text>
<line x1="119.10" y1="447.50" x2="121.50" y2="447.50" stroke="#000" stroke-width="1.1"/>
<line x1="170.34" y1="447.50" x2="193.91" y2="447.50" stroke="#f61e1e" stroke-width="1.2"/>
<line x1="170.34" y1="445.30" x2="170.34" y2="449.70" stroke="#f61e1e" stroke-width="1.1"/>
<line x1="193.91" y1="445.30" x2="193.91" y2="449.70" stroke="#f61e1e" stroke-width="1.1"/>
<circle cx="182.13" cy="447.50" r="2.35" fill="#f61e1e"/>
<text transform="translate(251.70 450.40) scale(1 1.1)" font-size="8.35" text-anchor="middle">2.217(1.214-4.048)</text>
<text transform="translate(310.60 450.40) scale(1 1.1)" font-size="8.35" text-anchor="middle">0.010</text>
<text transform="translate(115.80 465.70) scale(1 1.1)" font-size="8.5" text-anchor="end">Ki67+ (≥10% vs &lt;10%)</text>
<line x1="119.10" y1="462.80" x2="121.50" y2="462.80" stroke="#000" stroke-width="1.1"/>
<line x1="171.21" y1="462.80" x2="197.33" y2="462.80" stroke="#f61e1e" stroke-width="1.2"/>
<line x1="171.21" y1="460.60" x2="171.21" y2="465.00" stroke="#f61e1e" stroke-width="1.1"/>
<line x1="197.33" y1="460.60" x2="197.33" y2="465.00" stroke="#f61e1e" stroke-width="1.1"/>
<circle cx="184.27" cy="462.80" r="2.35" fill="#f61e1e"/>
<text transform="translate(251.70 465.70) scale(1 1.1)" font-size="8.35" text-anchor="middle">2.474(1.269-4.822)</text>
<text transform="translate(310.60 465.70) scale(1 1.1)" font-size="8.35" text-anchor="middle">0.008</text>
<text transform="translate(115.80 481.00) scale(1 1.1)" font-size="8.5" text-anchor="end">Histological grade (II-III vs I)</text>
<line x1="119.10" y1="478.10" x2="121.50" y2="478.10" stroke="#000" stroke-width="1.1"/>
<line x1="157.70" y1="478.10" x2="184.59" y2="478.10" stroke="#000" stroke-width="1.2"/>
<line x1="157.70" y1="475.90" x2="157.70" y2="480.30" stroke="#000" stroke-width="1.1"/>
<line x1="184.59" y1="475.90" x2="184.59" y2="480.30" stroke="#000" stroke-width="1.1"/>
<circle cx="171.15" cy="478.10" r="2.35" fill="#000"/>
<text transform="translate(251.70 481.00) scale(1 1.1)" font-size="8.35" text-anchor="middle">1.265(0.636-2.515)</text>
<text transform="translate(310.60 481.00) scale(1 1.1)" font-size="8.35" text-anchor="middle">0.503</text>
<text transform="translate(115.80 496.30) scale(1 1.1)" font-size="8.5" text-anchor="end">Age (≥60y vs &lt;60y)</text>
<line x1="119.10" y1="493.40" x2="121.50" y2="493.40" stroke="#000" stroke-width="1.1"/>
<line x1="163.74" y1="493.40" x2="187.96" y2="493.40" stroke="#000" stroke-width="1.2"/>
<line x1="163.74" y1="491.20" x2="163.74" y2="495.60" stroke="#000" stroke-width="1.1"/>
<line x1="187.96" y1="491.20" x2="187.96" y2="495.60" stroke="#000" stroke-width="1.1"/>
<circle cx="175.84" cy="493.40" r="2.35" fill="#000"/>
<text transform="translate(251.70 496.30) scale(1 1.1)" font-size="8.35" text-anchor="middle">1.608(0.866-2.987)</text>
<text transform="translate(310.60 496.30) scale(1 1.1)" font-size="8.35" text-anchor="middle">0.132</text>
<text transform="translate(342.50 361.80) scale(1 1.04)" font-size="13.2" font-weight="bold">i</text>
<text transform="translate(451.00 369.80) scale(1 1.1)" font-size="8.35" text-anchor="end">Cohort 2</text>
<line x1="418.30" y1="372.30" x2="452.00" y2="372.30" stroke="#000" stroke-width="1.1"/>
<text transform="translate(451.00 384.40) scale(1 1.1)" font-size="8.35" text-anchor="end">Multivariable risk factor</text>
<line x1="366.20" y1="387.40" x2="452.00" y2="387.40" stroke="#000" stroke-width="1.1"/>
<line x1="456.60" y1="390.20" x2="456.60" y2="460.30" stroke="#000" stroke-width="1.1"/>
<line x1="456.10" y1="459.80" x2="547.40" y2="459.80" stroke="#000" stroke-width="1.1"/>
<line x1="456.60" y1="459.80" x2="456.60" y2="462.10" stroke="#000" stroke-width="1.1"/>
<text transform="translate(456.60 472.20) scale(1 1.1)" font-size="8.35" text-anchor="middle">0.1</text>
<line x1="502.00" y1="459.80" x2="502.00" y2="462.10" stroke="#000" stroke-width="1.1"/>
<text transform="translate(502.00 472.20) scale(1 1.1)" font-size="8.35" text-anchor="middle">1</text>
<line x1="547.40" y1="459.80" x2="547.40" y2="462.10" stroke="#000" stroke-width="1.1"/>
<text transform="translate(547.40 472.20) scale(1 1.1)" font-size="8.35" text-anchor="middle">10</text>
<line x1="470.27" y1="459.80" x2="470.27" y2="461.20" stroke="#000" stroke-width="0.8"/>
<line x1="478.26" y1="459.80" x2="478.26" y2="461.20" stroke="#000" stroke-width="0.8"/>
<line x1="483.93" y1="459.80" x2="483.93" y2="461.20" stroke="#000" stroke-width="0.8"/>
<line x1="488.33" y1="459.80" x2="488.33" y2="461.20" stroke="#000" stroke-width="0.8"/>
<line x1="491.93" y1="459.80" x2="491.93" y2="461.20" stroke="#000" stroke-width="0.8"/>
<line x1="494.97" y1="459.80" x2="494.97" y2="461.20" stroke="#000" stroke-width="0.8"/>
<line x1="497.60" y1="459.80" x2="497.60" y2="461.20" stroke="#000" stroke-width="0.8"/>
<line x1="499.92" y1="459.80" x2="499.92" y2="461.20" stroke="#000" stroke-width="0.8"/>
<line x1="515.67" y1="459.80" x2="515.67" y2="461.20" stroke="#000" stroke-width="0.8"/>
<line x1="523.66" y1="459.80" x2="523.66" y2="461.20" stroke="#000" stroke-width="0.8"/>
<line x1="529.33" y1="459.80" x2="529.33" y2="461.20" stroke="#000" stroke-width="0.8"/>
<line x1="533.73" y1="459.80" x2="533.73" y2="461.20" stroke="#000" stroke-width="0.8"/>
<line x1="537.33" y1="459.80" x2="537.33" y2="461.20" stroke="#000" stroke-width="0.8"/>
<line x1="540.37" y1="459.80" x2="540.37" y2="461.20" stroke="#000" stroke-width="0.8"/>
<line x1="543.00" y1="459.80" x2="543.00" y2="461.20" stroke="#000" stroke-width="0.8"/>
<line x1="545.32" y1="459.80" x2="545.32" y2="461.20" stroke="#000" stroke-width="0.8"/>
<line x1="502.00" y1="390.20" x2="502.00" y2="459.80" stroke="#000" stroke-width="1.3" stroke-dasharray="1.2,1.9"/>
<text transform="translate(502.00 483.60) scale(1 1.1)" font-size="8.35" text-anchor="middle"><tspan font-style="italic">HR</tspan> (95% <tspan font-style="italic">CI</tspan>)</text>
<text transform="translate(581.30 382.90) scale(1 1.1)" font-size="8.35" text-anchor="middle"><tspan font-style="italic">HR</tspan> (95% <tspan font-style="italic">CI</tspan>)</text>
<text transform="translate(647.20 382.90) scale(1 1.1)" font-size="8.35" text-anchor="middle"><tspan font-style="italic">P</tspan> value</text>
<line x1="550.10" y1="387.10" x2="660.50" y2="387.10" stroke="#000" stroke-width="1.1"/>
<text transform="translate(451.00 403.80) scale(1 1.1)" font-size="8.5" text-anchor="end">NR4A1 (low vs high)</text>
<line x1="454.20" y1="400.90" x2="456.60" y2="400.90" stroke="#000" stroke-width="1.1"/>
<line x1="502.74" y1="400.90" x2="528.19" y2="400.90" stroke="#f61e1e" stroke-width="1.2"/>
<line x1="502.74" y1="398.70" x2="502.74" y2="403.10" stroke="#f61e1e" stroke-width="1.1"/>
<line x1="528.19" y1="398.70" x2="528.19" y2="403.10" stroke="#f61e1e" stroke-width="1.1"/>
<circle cx="515.43" cy="400.90" r="2.35" fill="#f61e1e"/>
<text transform="translate(587.20 403.80) scale(1 1.1)" font-size="8.35" text-anchor="middle">1.976(1.038-3.774)</text>
<text transform="translate(647.90 403.80) scale(1 1.1)" font-size="8.35" text-anchor="middle">0.038</text>
<text transform="translate(451.00 420.00) scale(1 1.1)" font-size="8.5" text-anchor="end">T stage (T3-4 vs T1-2)</text>
<line x1="454.20" y1="417.10" x2="456.60" y2="417.10" stroke="#000" stroke-width="1.1"/>
<line x1="493.45" y1="417.10" x2="529.55" y2="417.10" stroke="#000" stroke-width="1.2"/>
<line x1="493.45" y1="414.90" x2="493.45" y2="419.30" stroke="#000" stroke-width="1.1"/>
<line x1="529.55" y1="414.90" x2="529.55" y2="419.30" stroke="#000" stroke-width="1.1"/>
<circle cx="511.50" cy="417.10" r="2.35" fill="#000"/>
<text transform="translate(587.20 420.00) scale(1 1.1)" font-size="8.35" text-anchor="middle">1.619(0.648-4.045)</text>
<text transform="translate(647.90 420.00) scale(1 1.1)" font-size="8.35" text-anchor="middle">0.303</text>
<text transform="translate(451.00 436.00) scale(1 1.1)" font-size="8.5" text-anchor="end">AJCC TNM stage (III vs I-II)</text>
<line x1="454.20" y1="433.10" x2="456.60" y2="433.10" stroke="#000" stroke-width="1.1"/>
<line x1="496.54" y1="433.10" x2="528.14" y2="433.10" stroke="#000" stroke-width="1.2"/>
<line x1="496.54" y1="430.90" x2="496.54" y2="435.30" stroke="#000" stroke-width="1.1"/>
<line x1="528.14" y1="430.90" x2="528.14" y2="435.30" stroke="#000" stroke-width="1.1"/>
<circle cx="512.35" cy="433.10" r="2.35" fill="#000"/>
<text transform="translate(587.20 436.00) scale(1 1.1)" font-size="8.35" text-anchor="middle">1.690(0.758-3.765)</text>
<text transform="translate(647.90 436.00) scale(1 1.1)" font-size="8.35" text-anchor="middle">0.200</text>
<text transform="translate(451.00 452.10) scale(1 1.1)" font-size="8.5" text-anchor="end">Ki67+ (≥10% vs &lt;10%)</text>
<line x1="454.20" y1="449.20" x2="456.60" y2="449.20" stroke="#000" stroke-width="1.1"/>
<line x1="506.21" y1="449.20" x2="532.53" y2="449.20" stroke="#f61e1e" stroke-width="1.2"/>
<line x1="506.21" y1="447.00" x2="506.21" y2="451.40" stroke="#f61e1e" stroke-width="1.1"/>
<line x1="532.53" y1="447.00" x2="532.53" y2="451.40" stroke="#f61e1e" stroke-width="1.1"/>
<circle cx="519.37" cy="449.20" r="2.35" fill="#f61e1e"/>
<text transform="translate(587.20 452.10) scale(1 1.1)" font-size="8.35" text-anchor="middle">2.413(1.238-4.704)</text>
<text transform="translate(647.90 452.10) scale(1 1.1)" font-size="8.35" text-anchor="middle">0.010</text>
</svg></body></html>
